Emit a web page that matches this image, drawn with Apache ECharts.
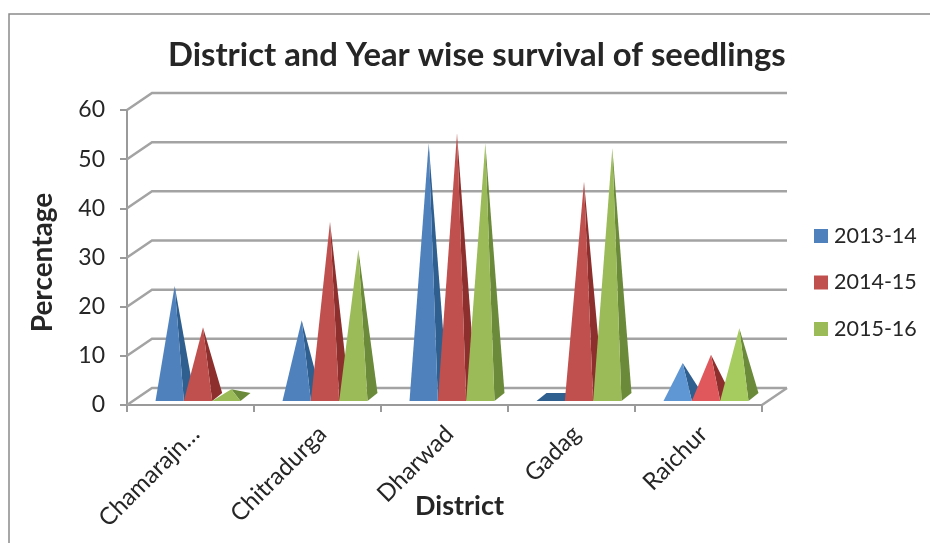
<!DOCTYPE html>
<html>
<head>
<meta charset="utf-8">
<style>
  html, body { margin: 0; padding: 0; background: #fff; }
  #chart { width: 930px; height: 543px; }
</style>
<script src="https://cdn.jsdelivr.net/npm/echarts@6/dist/echarts.min.js"></script>
</head>
<body>
<div id="chart"></div>
<script>
var districts = ['Chamarajn…', 'Chitradurga', 'Dharwad', 'Gadag', 'Raichur'];
var years = ['2013-14', '2014-15', '2015-16'];
var survival1314 = [23, 16, 52, 0, 7.3];
var survival1415 = [14.6, 36, 54, 44.2, 9];
var survival1516 = [2, 30.4, 52, 51, 14.4];
var yTicks = [0, 10, 20, 30, 40, 50, 60];

var fronts = ['#4f81bd', '#c0504d', '#9bbb59'];
var sides = ['#2f5f8f', '#8c2f2d', '#6b8a3a'];
var lastFronts = ['#5f97d4', '#e0585c', '#a6cb5e'];

var FONT = 'Lato';
var DEPTH_X = 25, DEPTH_Y = -17;   // wall offset from the front plane
var CONE_X = 10, CONE_Y = -8;      // base depth of a cone

var chart = echarts.init(document.getElementById('chart'));

function wallItem(params, api) {
  var sys = params.coordSys;
  var p = api.coord([0, api.value(0)]);
  return {
    type: 'polyline',
    silent: true,
    shape: { points: [
      [sys.x, p[1]],
      [sys.x + DEPTH_X, p[1] + DEPTH_Y],
      [sys.x + sys.width + DEPTH_X, p[1] + DEPTH_Y]
    ] },
    style: { fill: null, stroke: '#a3a3a3', lineWidth: 2.5 }
  };
}

function floorItem(params, api) {
  var sys = params.coordSys;
  var y = api.coord([0, 0])[1];
  return {
    type: 'line',
    silent: true,
    shape: { x1: sys.x + sys.width, y1: y, x2: sys.x + sys.width + DEPTH_X, y2: y + DEPTH_Y },
    style: { stroke: '#a3a3a3', lineWidth: 2.5 }
  };
}

function coneItem(s) {
  return function (params, api) {
    var i = api.value(0);
    var v = api.value(1);
    var band = api.size([1, 0])[0];
    var w = band * 0.223;
    var base = api.coord([i, 0]);
    var top = api.coord([i, v]);
    var left = base[0] + 7.5 + (s - 1.5) * w;
    var y = base[1] - 4;
    var h = base[1] - top[1];
    var apex = [left + w / 2 + CONE_X / 2, y + CONE_Y / 2 - h + 2];
    var front = i === 4 ? lastFronts[s] : fronts[s];
    if (v === 0) {
      return {
        type: 'polygon',
        shape: { points: [[left, y], [left + w, y], [left + w + CONE_X, y + CONE_Y], [left + CONE_X, y + CONE_Y]] },
        style: { fill: sides[s] }
      };
    }
    return {
      type: 'group',
      children: [
        {
          type: 'polygon',
          shape: { points: [[left + w, y], [left + w + CONE_X, y + CONE_Y], apex] },
          style: { fill: sides[s] }
        },
        {
          type: 'polygon',
          shape: { points: [[left, y], [left + w, y], apex] },
          style: { fill: front }
        }
      ]
    };
  };
}

function coneSeries(name, values, s) {
  return {
    name: name,
    type: 'custom',
    coordinateSystem: 'cartesian2d',
    renderItem: coneItem(s),
    itemStyle: { color: fronts[s] },
    encode: { x: 0, y: 1 },
    z: 5,
    data: values.map(function (v, i) { return [i, v]; })
  };
}

var option = {
  animation: false,
  backgroundColor: '#fff',
  textStyle: { fontFamily: FONT },
  title: {
    text: 'District and Year wise survival of seedlings',
    left: 163,
    top: 34,
    textStyle: { fontFamily: FONT, fontSize: 32.8, fontWeight: 'bold', color: '#262626' }
  },
  legend: {
    data: years,
    orient: 'vertical',
    left: 809,
    top: 220,
    itemWidth: 14,
    itemHeight: 14,
    itemGap: 24.5,
    icon: 'rect',
    textStyle: { fontFamily: FONT, fontSize: 21.5, color: '#262626', padding: [0, 0, 0, 1] }
  },
  grid: { left: 127, right: 168, top: 110, bottom: 138, outerBoundsMode: 'none' },
  xAxis: {
    type: 'category',
    data: districts,
    name: 'District',
    nameLocation: 'middle',
    nameGap: 88,
    nameMoveOverlap: false,
    nameTextStyle: { fontFamily: FONT, fontSize: 27, fontWeight: 'bold', color: '#262626', padding: [0, 0, 0, 30] },
    axisLine: { lineStyle: { color: '#9a9a9a', width: 2 } },
    axisTick: { show: true, length: 7, lineStyle: { color: '#9a9a9a', width: 2 } },
    axisLabel: { rotate: 45, margin: 30, fontFamily: FONT, fontSize: 24, color: '#262626', padding: [0, -7, 0, 0], interval: 0 }
  },
  yAxis: {
    type: 'value',
    min: 0,
    max: 60,
    interval: 10,
    name: 'Percentage',
    nameLocation: 'middle',
    nameGap: 70,
    nameTextStyle: { fontFamily: FONT, fontSize: 28, fontWeight: 'bold', color: '#262626', padding: [0, 10, 0, 0] },
    splitLine: { show: false },
    axisLine: { show: true, lineStyle: { color: '#9a9a9a', width: 2 } },
    axisTick: { show: true, length: 7, lineStyle: { color: '#9a9a9a', width: 2 } },
    axisLabel: { margin: 22, fontFamily: FONT, fontSize: 23, color: '#262626', padding: [4, 0, 0, 0] }
  },
  graphic: [{
    type: 'polyline',
    silent: true,
    shape: { points: [[9, 543], [9, 14], [930, 14]] },
    style: { fill: null, stroke: '#8a8a8a', lineWidth: 1.5 }
  }],
  series: [
    {
      type: 'custom',
      coordinateSystem: 'cartesian2d',
      renderItem: wallItem,
      silent: true,
      z: 1,
      data: yTicks.map(function (t) { return [t]; }),
      encode: { y: 0 }
    },
    {
      type: 'custom',
      coordinateSystem: 'cartesian2d',
      renderItem: floorItem,
      silent: true,
      z: 1,
      data: [[0]]
    },
    coneSeries(years[0], survival1314, 0),
    coneSeries(years[1], survival1415, 1),
    coneSeries(years[2], survival1516, 2)
  ]
};

chart.setOption(option);
</script>
</body>
</html>
